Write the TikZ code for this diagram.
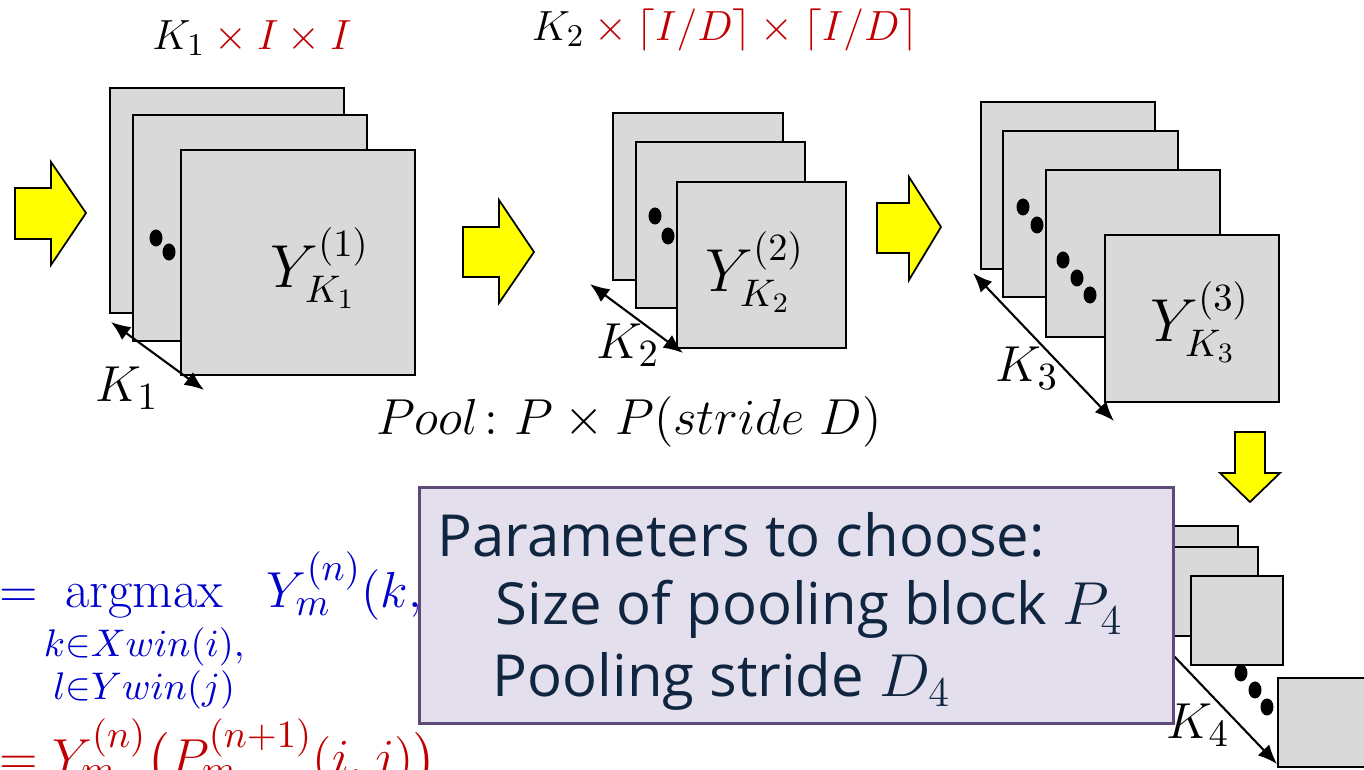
\documentclass[tikz,border=0pt]{standalone}
\usepackage{amsmath}
\usepackage{fontspec}
\newfontfamily\notefont{Open Sans}
\usetikzlibrary{arrows.meta}

\definecolor{mapgray}{HTML}{D9D9D9}
\definecolor{flowyellow}{HTML}{FFFF00}
\definecolor{dimred}{HTML}{C00000}
\definecolor{eqblue}{HTML}{0000CC}
\definecolor{notefill}{HTML}{E4DFEC}
\definecolor{noteedge}{HTML}{5F497A}
\definecolor{notetext}{HTML}{10253F}

\begin{document}
\begin{tikzpicture}[>={Latex[length=5.5pt,width=4.5pt]},
    map/.style={draw, fill=mapgray, line width=0.5pt},
    flow/.style={draw, fill=flowyellow, line width=0.5pt},
    dim/.style={<->, line width=0.6pt},
    lbl/.style={font=\fontsize{15}{18}\selectfont},
    ylbl/.style={font=\fontsize{16}{19}\selectfont},
    note/.style={anchor=base west, inner sep=0pt, text=notetext,
        font=\notefont\fontsize{16.5}{19}\selectfont}]

    % picture frame
    \useasboundingbox (0,0) rectangle (13.64,7.70);
    \clip (0,0) rectangle (13.64,7.70);

    % 1. first stack of maps
    \draw[flow] (0.15,5.31) -- (0.51,5.31) -- (0.51,5.05) -- (0.86,5.57)
        -- (0.51,6.08) -- (0.51,5.82) -- (0.15,5.82) -- cycle;
    \draw[map] (1.10,4.57) rectangle (3.44,6.82);
    \draw[map] (1.33,4.29) rectangle (3.67,6.55);
    \fill (1.56,5.32) ellipse [x radius=0.065, y radius=0.085];
    \fill (1.69,5.18) ellipse [x radius=0.065, y radius=0.085];
    \draw[map] (1.81,3.95) rectangle (4.15,6.20);
    \node[ylbl] (y1) at (3.20,5.02) {$Y_{K_1}^{(1)}$};
    \node[font=\fontsize{13}{16}\selectfont] (size1) at (2.52,7.32)
        {$K_1\color{dimred}\times I\times I$};

    \coordinate (k1a) at (1.11,4.48);
    \coordinate (k1b) at (2.04,3.80);
    \draw[dim] (k1a) -- (k1b);
    \node[lbl] (k1) at (1.27,3.82) {$K_1$};

    % 2. second stack of maps
    \draw[flow] (4.63,4.93) -- (4.99,4.93) -- (4.99,4.67) -- (5.34,5.18)
        -- (4.99,5.70) -- (4.99,5.43) -- (4.63,5.43) -- cycle;
    \draw[map] (6.13,4.90) rectangle (7.83,6.57);
    \draw[map] (6.36,4.62) rectangle (8.05,6.28);
    \fill (6.55,5.54) ellipse [x radius=0.065, y radius=0.085];
    \fill (6.68,5.34) ellipse [x radius=0.065, y radius=0.085];
    \draw[map] (6.77,4.22) rectangle (8.46,5.88);
    \node[ylbl] (y2) at (7.55,4.98) {$Y_{K_2}^{(2)}$};
    \node[font=\fontsize{13}{16}\selectfont] (size2) at (7.25,7.40)
        {$K_2\color{dimred}\times\lceil I/D\rceil\times\lceil I/D\rceil$};

    \coordinate (k2a) at (5.90,4.86);
    \coordinate (k2b) at (6.83,4.17);
    \draw[dim] (k2a) -- (k2b);
    \node[lbl] (k2) at (6.28,4.25) {$K_2$};

    \node[font=\fontsize{15}{18}\selectfont] (pool) at (6.29,3.48)
        {$Pool\colon P\times P(stride\ D)$};

    % 3. third stack of maps
    \draw[flow] (8.77,5.17) -- (9.09,5.17) -- (9.09,4.90) -- (9.41,5.43)
        -- (9.09,5.93) -- (9.09,5.67) -- (8.77,5.67) -- cycle;
    \draw[map] (9.81,5.01) rectangle (11.55,6.68);
    \draw[map] (10.03,4.73) rectangle (11.78,6.39);
    \fill (10.23,5.63) ellipse [x radius=0.065, y radius=0.085];
    \fill (10.37,5.45) ellipse [x radius=0.065, y radius=0.085];
    \draw[map] (10.46,4.33) rectangle (12.20,6.00);
    \foreach \x/\y in {10.63/5.10, 10.77/4.92, 10.90/4.75}
        \fill (\x,\y) ellipse [x radius=0.065, y radius=0.085];
    \draw[map] (11.05,3.68) rectangle (12.79,5.35);
    \node[ylbl] (y3) at (12.00,4.48) {$Y_{K_3}^{(3)}$};

    \coordinate (k3a) at (9.73,4.97);
    \coordinate (k3b) at (11.14,3.49);
    \draw[dim] (k3a) -- (k3b);
    \node[lbl] (k3) at (10.27,4.02) {$K_3$};

    % 4. fourth stack of maps
    \draw[flow] (12.35,3.38) -- (12.65,3.38) -- (12.65,2.97) -- (12.80,2.97)
        -- (12.50,2.68) -- (12.20,2.97) -- (12.35,2.97) -- cycle;
    \draw[map] (11.46,1.55) rectangle (12.38,2.44);
    \draw[map] (11.66,1.34) rectangle (12.58,2.23);
    \draw[map] (11.91,1.05) rectangle (12.83,1.94);
    \foreach \x/\y in {12.41/0.97, 12.55/0.80, 12.67/0.63}
        \fill (\x,\y) ellipse [x radius=0.065, y radius=0.085];
    \draw[map] (12.78,0.03) rectangle (13.70,0.92);

    \coordinate (k4a) at (11.09,1.82);
    \coordinate (k4b) at (12.77,0.06);
    \draw[dim] (k4a) -- (k4b);

    % 5. pooling formulas
    \node[anchor=base west, inner sep=0pt, text=eqblue, font=\fontsize{15}{18}\selectfont] (argmax)
        at (-0.01,1.62) {$\displaystyle =\!\operatorname*{argmax}_{\substack{k\in Xwin(i),\\[0pt] l\in Ywin(j)}}\; Y_m^{(n)}(k,$};
    \node[anchor=base west, inner sep=0pt, text=dimred, font=\fontsize{15}{18}\selectfont] (pick)
        at (-0.01,-0.05) {$= Y_m^{(n)}\bigl(P_m^{(n+1)}(i,j)\bigr)$};

    % 6. parameters box
    \node[draw=noteedge, fill=notefill, line width=0.8pt, anchor=south west,
        minimum width=7.54cm, minimum height=2.36cm] (box) at (4.18,0.45) {};
    \node[note] (line1) at (4.37,2.13) {Parameters to choose:};
    \node[note] (line2) at (4.95,1.45) {Size of pooling block $P_4$};
    \node[note] (line3) at (4.92,0.73) {Pooling stride $D_4$};

    \node[lbl] (k4) at (11.98,0.45) {$K_4$};

\end{tikzpicture}
\end{document}
